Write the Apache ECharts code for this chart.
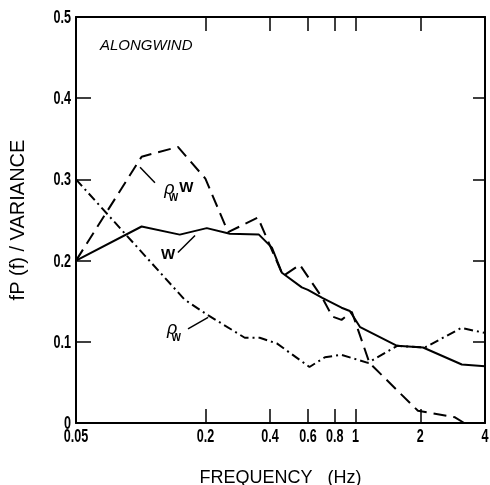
<!DOCTYPE html>
<html><head><meta charset="utf-8">
<script src="https://cdn.jsdelivr.net/npm/echarts@6/dist/echarts.min.js"></script>
<style>html,body{margin:0;padding:0;background:#fff}#c{width:490px;height:485px}</style>
</head><body><div id="c"></div>
<script>
// ---- data ----
const freqW = [0.05, 0.101, 0.152, 0.203, 0.26, 0.355, 0.408, 0.454, 0.562, 0.6, 0.70, 0.86, 0.94, 1.05, 1.56, 2.06, 3.12, 4];
const valW  = [0.200, 0.242, 0.232, 0.240, 0.233, 0.232, 0.216, 0.185, 0.167, 0.164, 0.154, 0.142, 0.138, 0.118, 0.095, 0.093, 0.072, 0.070];
const freqRW = [0.05, 0.101, 0.149, 0.2, 0.255, 0.351, 0.46, 0.55, 0.70, 0.78, 0.86, 0.96, 1.16, 1.95, 2.9, 3.2];
const valRW  = [0.200, 0.328, 0.340, 0.301, 0.235, 0.253, 0.181, 0.195, 0.154, 0.131, 0.127, 0.137, 0.074, 0.015, 0.007, 0.0];
const freqP = [0.05, 0.16, 0.205, 0.305, 0.358, 0.43, 0.61, 0.72, 0.86, 1.14, 1.56, 2.1, 3.1, 4];
const valP  = [0.300, 0.152, 0.133, 0.105, 0.105, 0.098, 0.069, 0.081, 0.084, 0.074, 0.095, 0.093, 0.117, 0.111];
const xTickValues  = [0.2, 0.4, 0.6, 0.8, 1, 2];
const xLabelValues = [0.05, 0.2, 0.4, 0.6, 0.8, 1, 2, 4];
const yLabelValues = [0, 0.1, 0.2, 0.3, 0.4, 0.5];

const pairs = (xs, ys) => xs.map((x, i) => [x, ys[i]]);
const SANS = '"Liberation Sans",Arial,sans-serif';

const chart = echarts.init(document.getElementById('c'), null, {renderer: 'canvas'});
const axisLine = {show: true, onZero: false, lineStyle: {color: '#000', width: 2}};
const xCommon = {type: 'log', logBase: 10, min: 0.05, max: 4, splitLine: {show: false}, minorTick: {show: false}};

const option = {
  animation: false,
  backgroundColor: '#fff',
  grid: {left: 76, right: 5, top: 17, bottom: 62, containLabel: false, outerBoundsMode: 'none'},
  xAxis: [
    Object.assign({}, xCommon, {
      position: 'bottom', axisLine,
      axisTick: {show: true, inside: true, length: 14, customValues: xTickValues, lineStyle: {color: '#000', width: 1.5}},
      axisLabel: {show: false},
      name: 'FREQUENCY   (Hz)', nameLocation: 'middle', nameGap: 46,
      nameTextStyle: {color: '#000', fontFamily: SANS, fontSize: 18}
    }),
    Object.assign({}, xCommon, {
      position: 'top', axisLine,
      axisTick: {show: true, inside: true, length: 14, customValues: xTickValues, lineStyle: {color: '#000', width: 1.5}},
      axisLabel: {show: false}
    })
  ],
  yAxis: [
    {type: 'value', min: 0, max: 0.5, interval: 0.1, position: 'left', axisLine,
     splitLine: {show: false},
     axisTick: {show: true, inside: true, length: 15, lineStyle: {color: '#000', width: 1.5}},
     axisLabel: {show: false},
     name: 'fP (f) / VARIANCE', nameLocation: 'middle', nameGap: 48, nameRotate: 90,
     nameTextStyle: {color: '#000', fontFamily: SANS, fontSize: 20}},
    {type: 'value', min: 0, max: 0.5, interval: 0.1, position: 'right', axisLine,
     splitLine: {show: false},
     axisTick: {show: true, inside: true, length: 12, lineStyle: {color: '#000', width: 1.5}},
     axisLabel: {show: false}}
  ],
  series: [
    {name: 'W', type: 'line', data: pairs(freqW, valW), symbol: 'none', silent: true,
     lineStyle: {color: '#000', width: 2, type: 'solid'},
     markLine: {silent: true, symbol: ['none', 'arrow'], symbolSize: [0, 9], label: {show: false},
       lineStyle: {color: '#000', width: 1.5, type: 'solid'},
       data: [
         [{coord: [0.1165, 0.296]}, {coord: [0.0993, 0.315]}],
         [{coord: [0.149, 0.210], lineStyle: {curveness: 0.35}}, {coord: [0.179, 0.231]}],
         [{coord: [0.166, 0.116], lineStyle: {curveness: 0.15}}, {coord: [0.206, 0.130]}]
       ]}},
    {name: 'ρwW', type: 'line', data: pairs(freqRW, valRW), symbol: 'none', silent: true,
     lineStyle: {color: '#000', width: 2, type: [13, 7]}},
    {name: 'ρw', type: 'line', data: pairs(freqP, valP), symbol: 'none', silent: true,
     lineStyle: {color: '#000', width: 2, type: [9, 4, 2, 4]}}
  ]
};
chart.setOption(option);

// tick labels (condensed) and annotation texts, anchored through the axes' scales
const P = (x, y) => chart.convertToPixel({xAxisIndex: 0, yAxisIndex: 0}, [x, y]);
function txt(pt, s, font, opts, extra) {
  return Object.assign({type: 'text', x: pt[0], y: pt[1], silent: true,
    style: Object.assign({text: s, fill: '#000', font: font, align: 'center', verticalAlign: 'middle'}, opts || {})}, extra || {});
}
const LBL = 'bold 18px ' + SANS;
const cond = {scaleX: 0.7};
const g = [];
xLabelValues.forEach(v => {
  const p = P(v, 0);
  g.push(txt([p[0], p[1] + 14], String(v), LBL, {}, cond));
});
yLabelValues.forEach(v => {
  const p = P(0.05, v);
  g.push(txt([p[0] - 5, p[1] + 1], v === 0 ? '0' : v.toFixed(1), LBL, {align: 'right'}, cond));
});
const a1 = P(0.136, 0.288), a2 = P(0.134, 0.207), a3 = P(0.140, 0.116), t0 = P(0.05, 0.5);
g.push(
  txt([t0[0] + 24, t0[1] + 29], 'ALONGWIND', 'italic 15px ' + SANS, {align: 'left'}),
  txt(a1, 'ρ', 'italic 18px ' + SANS),
  txt([a1[0] + 4, a1[1] + 9], 'W', 'bold 10px ' + SANS),
  txt([a1[0] + 17, a1[1] - 1], 'W', 'bold 15px ' + SANS),
  txt(a2, 'W', 'bold 15px ' + SANS),
  txt(a3, 'ρ', 'italic 18px ' + SANS),
  txt([a3[0] + 4, a3[1] + 9], 'W', 'bold 10px ' + SANS)
);
chart.setOption({graphic: g});
</script></body></html>
